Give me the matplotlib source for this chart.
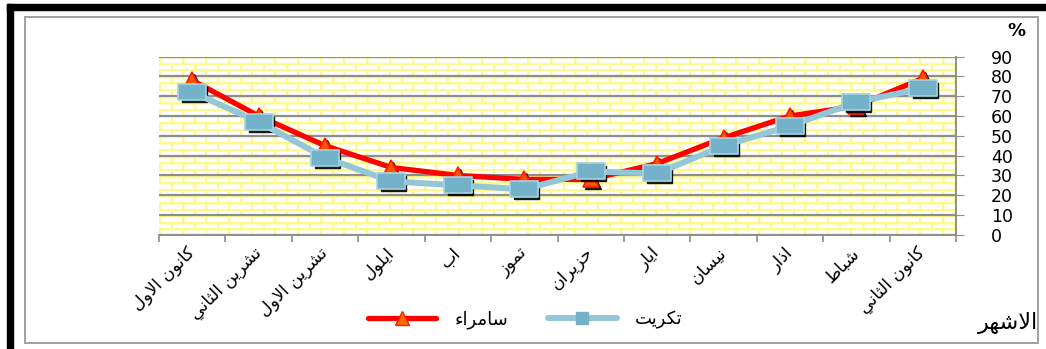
# -*- coding: utf-8 -*-
import numpy as np
import matplotlib
matplotlib.use("Agg")
import matplotlib.pyplot as plt
import matplotlib.transforms as mtransforms
from matplotlib.lines import Line2D
from matplotlib.path import Path
from matplotlib.patches import Rectangle

# months Jan..Dec (x axis is drawn right-to-left)
months = ["كانون الثاني", "شباط", "اذار", "نيسان", "ايار", "حزيران",
          "تموز", "اب", "ايلول", "تشرين الاول", "تشرين الثاني", "كانون الاول"]
samarra = [79, 65, 60, 49, 36, 28, 28, 30, 34, 45, 60, 78]
tikrit = [74, 67, 55, 45, 31, 32, 23, 25, 27, 39, 57, 72]
series_names = ["سامراء", "تكريت"]
y_ticks = list(range(0, 91, 10))

# simple arabic shaping (presentation forms), matplotlib has no RTL layout
FORMS = {
    "ء": ("\uFE80", None, None, None),
    "ا": ("\uFE8D", "\uFE8E", None, None),
    "ب": ("\uFE8F", "\uFE90", "\uFE91", "\uFE92"),
    "ت": ("\uFE95", "\uFE96", "\uFE97", "\uFE98"),
    "ث": ("\uFE99", "\uFE9A", "\uFE9B", "\uFE9C"),
    "ح": ("\uFEA1", "\uFEA2", "\uFEA3", "\uFEA4"),
    "ذ": ("\uFEAB", "\uFEAC", None, None),
    "ر": ("\uFEAD", "\uFEAE", None, None),
    "ز": ("\uFEAF", "\uFEB0", None, None),
    "س": ("\uFEB1", "\uFEB2", "\uFEB3", "\uFEB4"),
    "ش": ("\uFEB5", "\uFEB6", "\uFEB7", "\uFEB8"),
    "ط": ("\uFEC1", "\uFEC2", "\uFEC3", "\uFEC4"),
    "ك": ("\uFED9", "\uFEDA", "\uFEDB", "\uFEDC"),
    "ل": ("\uFEDD", "\uFEDE", "\uFEDF", "\uFEE0"),
    "م": ("\uFEE1", "\uFEE2", "\uFEE3", "\uFEE4"),
    "ن": ("\uFEE5", "\uFEE6", "\uFEE7", "\uFEE8"),
    "ه": ("\uFEE9", "\uFEEA", "\uFEEB", "\uFEEC"),
    "و": ("\uFEED", "\uFEEE", None, None),
    "ي": ("\uFEF1", "\uFEF2", "\uFEF3", "\uFEF4"),
}


def joins_next(c):
    return c in FORMS and FORMS[c][2] is not None


def joins_prev(c):
    return c in FORMS and FORMS[c][1] is not None


def ar(text):
    out = []
    i = 0
    while i < len(text):
        c = text[i]
        if c not in FORMS:
            out.append(c)
            i += 1
            continue
        prev = text[i - 1] if i > 0 else ""
        con_prev = joins_next(prev) and joins_prev(c)
        if c == "ل" and i + 1 < len(text) and text[i + 1] == "ا":
            out.append("\uFEFC" if con_prev else "\uFEFB")
            i += 2
            continue
        nxt = text[i + 1] if i + 1 < len(text) else ""
        con_next = joins_next(c) and joins_prev(nxt)
        iso, fin, ini, med = FORMS[c]
        if con_prev and con_next:
            g = med
        elif con_prev:
            g = fin
        elif con_next:
            g = ini
        else:
            g = iso
        out.append(g)
        i += 1
    return "".join(reversed(out))


plt.rcParams["font.family"] = ["DejaVu Sans"]

fig = plt.figure(figsize=(10.46, 3.49), dpi=100)
ax = fig.add_axes([0.152, 0.327, 0.762, 0.511])

# brick background, one image pixel per screen pixel
W, H = 797, 178
bg = np.ones((H, W, 3))
mortar = np.array([1.0, 0.98, 0.55])
edge = np.array([1.0, 0.995, 0.8])
row_h = H / 27.0
for r in range(27):
    y0 = int(round(r * row_h))
    y1 = int(round((r + 1) * row_h))
    bg[y0:y0 + 2, :, :] = mortar
    bg[y0 + 2, :, :] = edge
    off = 0 if r % 2 == 0 else 11
    for x in range(-off, W, 23):
        if x + 2 > 0:
            bg[y0:y1, max(x, 0):min(x + 2, W), :] = mortar
        if 0 <= x + 2 < W:
            bg[y0 + 2:y1, x + 2, :] = edge
ax.imshow(bg, extent=(0, 1, 0, 1), transform=ax.transAxes, aspect="auto",
          interpolation="nearest", zorder=0)

x = np.arange(len(months))

shadow = ax.transData + mtransforms.ScaledTranslation(2 / 100, -2 / 100, fig.dpi_scale_trans)
rect = Path([(-1.0, -0.6), (1.0, -0.6), (1.0, 0.6), (-1.0, 0.6), (-1.0, -0.6)],
            [Path.MOVETO, Path.LINETO, Path.LINETO, Path.LINETO, Path.CLOSEPOLY])

ax.plot(x, samarra, ls="none", marker="^", ms=11, color="black", alpha=0.85,
        transform=shadow, zorder=2.8)
ax.plot(x, samarra, color="#FF0000", lw=3.8, marker="^", ms=12,
        mfc="#FF5500", mec="#FF1A00", mew=1.2, zorder=3)
ax.plot(x, tikrit, ls="none", marker=rect, ms=18, color="black", alpha=0.85,
        transform=shadow, zorder=3.8)
ax.plot(x, tikrit, color="#93C6D9", lw=4.3, marker=rect, ms=20,
        mfc="#74B2C9", mec="#A6D3E2", mew=1.2, zorder=4)

ax.set_xlim(len(months) - 0.5, -0.5)
ax.set_ylim(0, 90)
ax.set_yticks(y_ticks)
ax.yaxis.tick_right()
ax.tick_params(axis="y", length=6, color="#8E8E8E", pad=19, labelsize=12.5)
ax.grid(axis="y", color="#8E8E8E", lw=1.6)
ax.set_axisbelow(True)

ax.set_xticks(x)
ax.set_xticklabels([ar(m) for m in months], rotation=45, ha="right", va="center",
                   rotation_mode="anchor", fontsize=12.5)
ax.set_xticks(np.arange(-0.5, len(months), 1), minor=True)
ax.tick_params(axis="x", which="major", length=0, pad=11)
ax.tick_params(axis="x", which="minor", length=5, color="#8E8E8E", width=1.2)

for s in ["left", "top"]:
    ax.spines[s].set_visible(False)
for s in ["right", "bottom"]:
    ax.spines[s].set_color("#8E8E8E")
    ax.spines[s].set_linewidth(1.4)

fig.text(0.972, 0.912, "%", ha="center", va="center", fontsize=13, fontweight="bold")
fig.text(0.992, 0.075, ar("الاشهر"), ha="right", va="center", fontsize=16)

handles = [
    Line2D([], [], color="#FF0000", lw=3.8, marker="^", ms=10, mfc="#FF6A00",
           mec="#FF2000", solid_capstyle="round"),
    Line2D([], [], color="#93C6D9", lw=4.3, marker="s", ms=9, mfc="#74B2C9",
           mec="#74B2C9", solid_capstyle="round"),
]
fig.legend(handles, [ar(n) for n in series_names], loc="center",
           bbox_to_anchor=(0.502, 0.083), ncol=2, frameon=False, fontsize=13,
           handlelength=3.8, columnspacing=2.2, handletextpad=1.0)

# frame
fig.patches.append(Rectangle((25 / 1046, 1 - 343 / 349), 1013 / 1046, 326 / 349,
                             transform=fig.transFigure, fill=False,
                             edgecolor="#A0A0A0", lw=1.4, zorder=1))
fig.patches.append(Rectangle((7 / 1046, 1 - 10 / 349), 1, 6 / 349,
                             transform=fig.transFigure, color="black", zorder=1))
fig.patches.append(Rectangle((7 / 1046, 0), 6 / 1046, 1 - 4 / 349,
                             transform=fig.transFigure, color="black", zorder=1))

fig.savefig("out.png", dpi=100)
